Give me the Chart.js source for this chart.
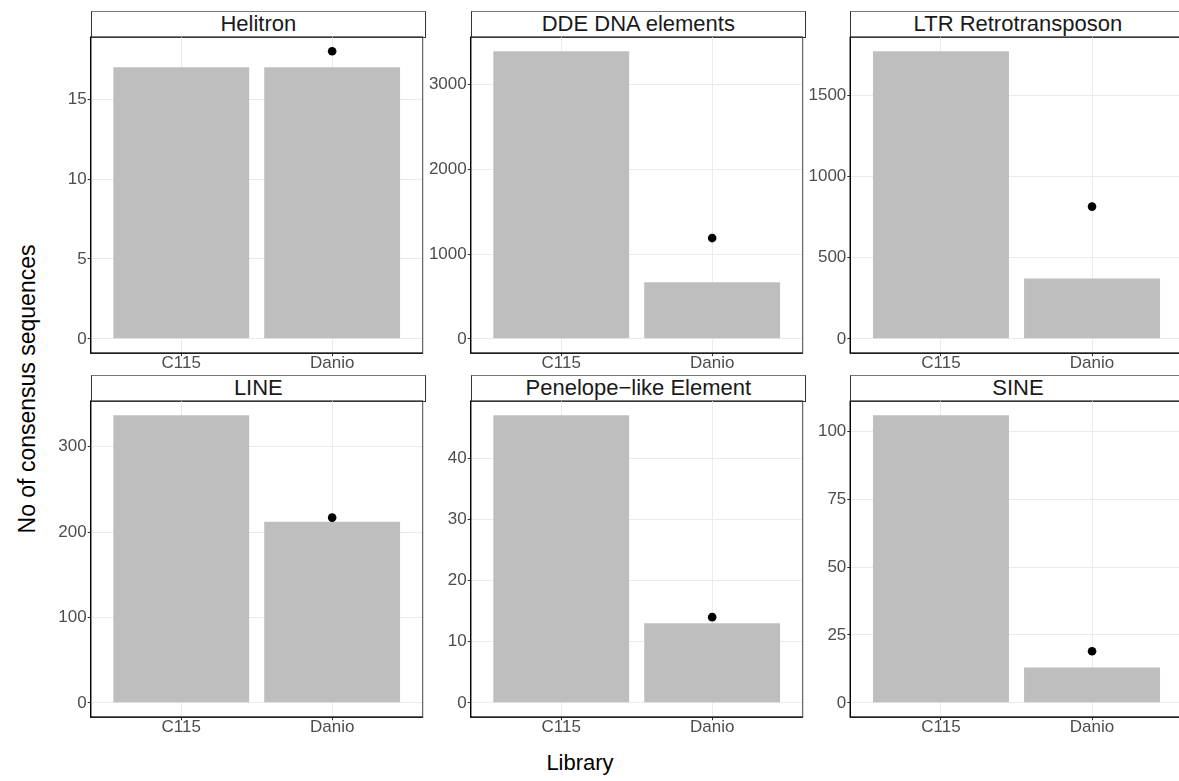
<!DOCTYPE html>
<html>
<head>
<meta charset="utf-8">
<script src="https://cdn.jsdelivr.net/npm/chart.js@4.4.0/dist/chart.umd.min.js"></script>
<style>
  html, body { margin: 0; padding: 0; background: #fff; overflow: hidden; }
  #fig { position: relative; width: 1179px; height: 781px; overflow: hidden; background: #fff;
         font-family: "Liberation Sans", Arial, Helvetica, sans-serif; }
  .strip { position: absolute; box-sizing: border-box; border: 1px solid #333; border-top-color: #777;
           background: #fff; color: #1a1a1a; font-size: 22px; text-align: center; white-space: nowrap; overflow: hidden; }
  canvas { position: absolute; }
  .axis-title { position: absolute; color: #000; font-size: 22px; white-space: nowrap; }
</style>
</head>
<body>
<div id="fig">
  <div class="axis-title" id="xTitle">Library</div>
  <div class="axis-title" id="yTitle">No of consensus sequences</div>
</div>
<script>
// Repeat families, one facet each
const families = ['Helitron', 'DDE DNA elements', 'LTR Retrotransposon',
                  'LINE', 'Penelope\u2212like Element', 'SINE'];
// Libraries on the x axis
const libraries = ['C115', 'Danio'];
// Bar heights per family
const c115Counts  = [17, 3395, 1773, 337, 47, 106];
const danioCounts = [17, 669, 372, 212, 13, 13];
// Black dot shown over the Danio bar
const danioPoints = [18, 1189, 815, 217, 14, 19];
// Y tick labels per facet
const yTicks = [
  [0, 5, 10, 15],
  [0, 1000, 2000, 3000],
  [0, 500, 1000, 1500],
  [0, 100, 200, 300],
  [0, 10, 20, 30, 40],
  [0, 25, 50, 75, 100]
];

// Facet grid geometry
const COL_LEFT = [90.7, 470.7, 850.3];
const PANEL_W = 334.3;
const ROW_TOP = [36.8, 400.8];
const PANEL_H = 316.4;
const STRIP_TOP = [11, 375];
const FONT = '"Liberation Sans", Arial, Helvetica, sans-serif';

const fig = document.getElementById('fig');

const xTitle = document.getElementById('xTitle');
xTitle.style.left = '580px';
xTitle.style.top = '763px';
xTitle.style.transform = 'translate(-50%, -50%)';

const yTitle = document.getElementById('yTitle');
yTitle.style.left = '27px';
yTitle.style.top = '389px';
yTitle.style.fontSize = '23px';
yTitle.style.transform = 'translate(-50%, -50%) rotate(-90deg)';

// Panel outline drawn over the data, darker on the axis sides
const panelFrame = {
  id: 'panelFrame',
  afterDatasetsDraw(chart) {
    const { ctx, chartArea: a } = chart;
    ctx.save();
    ctx.strokeStyle = '#444';
    ctx.lineWidth = 1;
    ctx.strokeRect(a.left, a.top, a.right - a.left, a.bottom - a.top);
    ctx.strokeStyle = '#000';
    ctx.lineWidth = 1.3;
    ctx.beginPath();
    ctx.moveTo(a.left, a.top);
    ctx.lineTo(a.left, a.bottom);
    ctx.lineTo(a.right, a.bottom);
    ctx.stroke();
    ctx.restore();
  }
};

families.forEach((name, i) => {
  const col = i % 3, row = Math.floor(i / 3);
  const left = COL_LEFT[col], top = ROW_TOP[row];

  // strip label
  const strip = document.createElement('div');
  strip.className = 'strip';
  strip.textContent = name;
  const sTop = STRIP_TOP[row];
  const sH = top - sTop + 1;
  strip.style.left = left + 'px';
  strip.style.top = sTop + 'px';
  strip.style.width = (PANEL_W + 1) + 'px';
  strip.style.height = sH + 'px';
  strip.style.lineHeight = (sH - 2) + 'px';
  fig.appendChild(strip);

  // canvas sized to hold the panel plus its axis labels
  const cL = Math.floor(left - 84);
  const cT = Math.floor(top - 20);
  const cR = Math.ceil(left + PANEL_W + 2);
  const cB = Math.ceil(top + PANEL_H + 40);
  const canvas = document.createElement('canvas');
  canvas.width = cR - cL;
  canvas.height = cB - cT;
  canvas.style.left = cL + 'px';
  canvas.style.top = cT + 'px';
  canvas.style.width = (cR - cL) + 'px';
  canvas.style.height = (cB - cT) + 'px';
  fig.appendChild(canvas);

  const yAxisW = left - cL;
  const padTop = top - cT;
  const padRight = cR - (left + PANEL_W);
  const padBottom = cB - (top + PANEL_H) - 40;

  const ymax = Math.max(c115Counts[i], danioCounts[i], danioPoints[i]);

  new Chart(canvas, {
    type: 'bar',
    data: {
      datasets: [
        {
          type: 'scatter',
          data: [{ x: 2, y: danioPoints[i] }],
          pointRadius: 4.3,
          pointHoverRadius: 4.3,
          backgroundColor: '#000',
          borderColor: '#000',
          borderWidth: 0,
          order: 0
        },
        {
          type: 'bar',
          data: [{ x: 1, y: c115Counts[i] }, { x: 2, y: danioCounts[i] }],
          backgroundColor: '#bebebe',
          borderWidth: 0,
          categoryPercentage: 1,
          barPercentage: 0.9,
          order: 1
        }
      ]
    },
    options: {
      responsive: false,
      animation: false,
      devicePixelRatio: 1,
      layout: { padding: { top: padTop, left: 0, right: padRight, bottom: padBottom } },
      plugins: { legend: { display: false }, tooltip: { enabled: false } },
      scales: {
        x: {
          type: 'linear',
          min: 0.4,
          max: 2.6,
          offset: false,
          afterBuildTicks: s => { s.ticks = libraries.map((_, k) => ({ value: k + 1 })); },
          afterFit: s => { s.height = 40; s.paddingLeft = 0; s.paddingRight = 0; },
          ticks: {
            callback: (v, idx) => libraries[idx],
            color: '#4d4d4d',
            font: { size: 17, family: FONT },
            padding: -3,
            maxRotation: 0,
            autoSkip: false
          },
          grid: { color: '#ebebeb', lineWidth: 1, tickLength: 3, tickColor: '#333', offset: false },
          border: { display: false }
        },
        y: {
          type: 'linear',
          min: -0.05 * ymax,
          max: 1.05 * ymax,
          afterBuildTicks: s => { s.ticks = yTicks[i].map(v => ({ value: v })); },
          afterFit: s => { s.width = yAxisW; s.paddingTop = 0; s.paddingBottom = 0; },
          ticks: {
            callback: v => String(v),
            color: '#4d4d4d',
            font: { size: 17, family: FONT },
            padding: 1
          },
          grid: { color: '#ebebeb', lineWidth: 1, tickLength: 3, tickColor: '#333' },
          border: { display: false }
        }
      }
    },
    plugins: [panelFrame]
  });
});
</script>
</body>
</html>
